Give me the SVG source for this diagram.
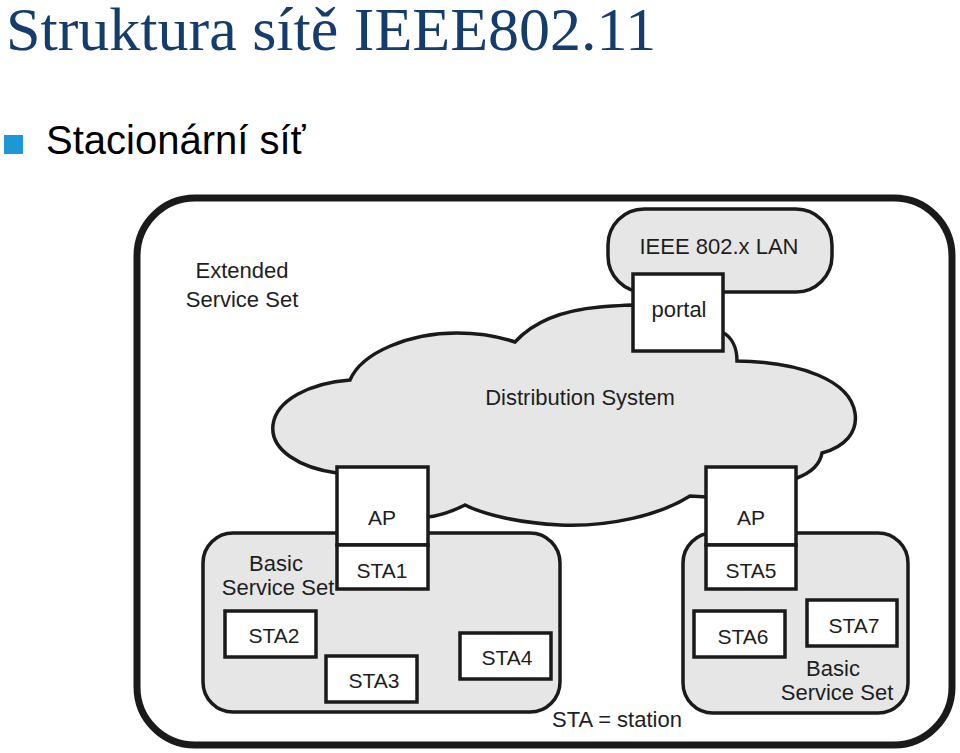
<svg xmlns="http://www.w3.org/2000/svg" width="960" height="753" viewBox="0 0 960 753">
<style>
.lbl{font-family:"Liberation Sans",Arial,sans-serif;font-size:22px;fill:#1e1e1e;text-anchor:middle}
.sta{font-family:"Liberation Sans",Arial,sans-serif;font-size:21px;fill:#1e1e1e;text-anchor:middle}
.box{fill:#ffffff;stroke:#1a1a1a;stroke-width:3.5}
.gray{fill:#e6e6e6;stroke:#1a1a1a;stroke-width:3.5}
</style>
<rect width="960" height="753" fill="#ffffff"/>
<g id="title">
<text x="6" y="50" font-family="'Liberation Serif','Times New Roman',serif" font-size="62" fill="#143d6d">Struktura sítě IEEE802.11</text>
</g>
<g id="bullet">
<rect x="4" y="135" width="19" height="19" fill="#1b98d5"/>
<text x="46" y="154" font-family="'Liberation Sans',Arial,sans-serif" font-size="40" fill="#000000">Stacionární síť</text>
</g>
<g id="ess">
<rect x="137" y="198" width="815" height="547" rx="58" ry="58" fill="#ffffff" stroke="#1a1a1a" stroke-width="7"/>
<text class="lbl" x="242" y="278">Extended</text>
<text class="lbl" x="242" y="307">Service Set</text>
</g>
<g id="lan">
<rect class="gray" x="608" y="209" width="224" height="83" rx="36" ry="36"/>
<text class="lbl" x="719" y="254">IEEE 802.x LAN</text>
</g>
<g id="ds">
<path class="gray" stroke-width="3" d="M337,473 C300,468 270,450 273,425 C276,400 310,383 350,380 C362,352 410,333 457,333 C480,333 500,337 515,342 C535,320 565,310 600,307 C615,306 625,305 633,305 L722,332 C732,337 737,348 737,361 C800,362 850,380 855,413 C858,432 845,447 822,453 C820,465 810,473 797,478 L707,497 L690,496 C660,515 610,527 560,525 C520,523 485,515 465,505 C455,510 440,516 427,517 Z"/>
<text class="lbl" x="580" y="405">Distribution System</text>
</g>
<g id="portal">
<rect class="box" x="633" y="274" width="90" height="77"/>
<text class="lbl" x="679" y="317">portal</text>
</g>
<g id="bss1">
<rect class="gray" x="203" y="533" width="357" height="179" rx="30" ry="30"/>
<text class="lbl" x="276" y="571">Basic</text>
<text class="lbl" x="278" y="595">Service Set</text>
</g>
<g id="bss2">
<rect class="gray" x="683" y="533" width="225" height="180" rx="30" ry="30"/>
<text class="lbl" x="833" y="676">Basic</text>
<text class="lbl" x="837" y="700">Service Set</text>
</g>
<g id="ap1">
<rect class="box" x="337" y="467" width="91" height="78"/>
<text class="sta" x="382" y="525">AP</text>
</g>
<g id="sta1">
<rect class="box" x="337" y="545" width="91" height="44"/>
<text class="sta" x="382" y="578">STA1</text>
</g>
<g id="ap2">
<rect class="box" x="706" y="467" width="90" height="78"/>
<text class="sta" x="751" y="525">AP</text>
</g>
<g id="sta5">
<rect class="box" x="706" y="545" width="90" height="44"/>
<text class="sta" x="751" y="578">STA5</text>
</g>
<g id="sta2">
<rect class="box" x="225" y="611" width="91" height="46"/>
<text class="sta" x="274" y="643">STA2</text>
</g>
<g id="sta3">
<rect class="box" x="326" y="656" width="91" height="46"/>
<text class="sta" x="374" y="688">STA3</text>
</g>
<g id="sta4">
<rect class="box" x="460" y="633" width="91" height="46"/>
<text class="sta" x="507" y="665">STA4</text>
</g>
<g id="sta6">
<rect class="box" x="694" y="611" width="91" height="46"/>
<text class="sta" x="743" y="644">STA6</text>
</g>
<g id="sta7">
<rect class="box" x="807" y="600" width="90" height="46"/>
<text class="sta" x="854" y="633">STA7</text>
</g>
<g id="legend">
<text class="lbl" x="617" y="727">STA = station</text>
</g>
<g id="connectors"></g>
</svg>
